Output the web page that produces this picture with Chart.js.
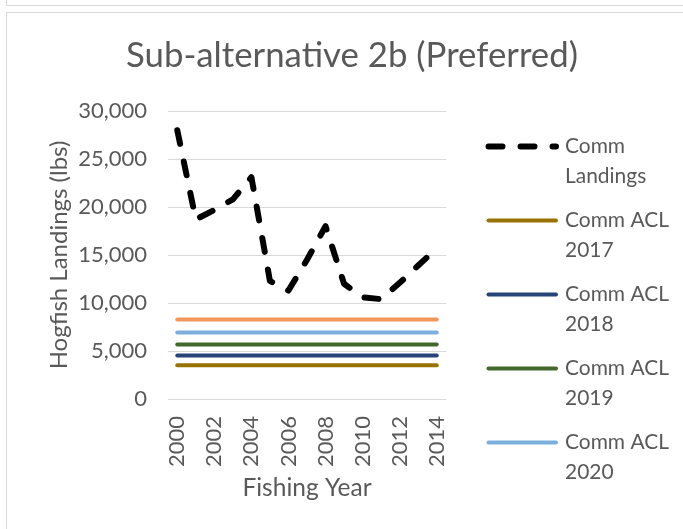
<!DOCTYPE html>
<html>
<head>
<meta charset="utf-8">
<script src="https://cdn.jsdelivr.net/npm/chart.js@4/dist/chart.umd.min.js"></script>
<style>
  html, body { margin: 0; padding: 0; background: #fff; width: 683px; height: 529px; overflow: hidden; }
  .topbox { position: absolute; left: 6px; top: -20px; width: 700px; height: 24px; border: 1px solid #d9d9d9; }
  .chartbox { position: absolute; left: 6px; top: 12px; width: 700px; height: 540px; border: 1px solid #d9d9d9; }
  canvas { position: absolute; left: 0; top: 0; }
</style>
</head>
<body>
<div class="topbox"></div>
<div class="chartbox"></div>
<canvas id="c" width="683" height="529"></canvas>
<script>
const years = ['2000','2001','2002','2003','2004','2005','2006','2007','2008','2009','2010','2011','2012','2013','2014'];
const commLandings = [28000, 18700, 19700, 20800, 23100, 12300, 11300, 14500, 18000, 12000, 10600, 10400, 12100, 13900, 15700];
const commAcl2017 = [3510, 3510, 3510, 3510, 3510, 3510, 3510, 3510, 3510, 3510, 3510, 3510, 3510, 3510, 3510];
const commAcl2018 = [4520, 4520, 4520, 4520, 4520, 4520, 4520, 4520, 4520, 4520, 4520, 4520, 4520, 4520, 4520];
const commAcl2019 = [5670, 5670, 5670, 5670, 5670, 5670, 5670, 5670, 5670, 5670, 5670, 5670, 5670, 5670, 5670];
const commAcl2020 = [6920, 6920, 6920, 6920, 6920, 6920, 6920, 6920, 6920, 6920, 6920, 6920, 6920, 6920, 6920];
const commAcl2021 = [8270, 8270, 8270, 8270, 8270, 8270, 8270, 8270, 8270, 8270, 8270, 8270, 8270, 8270, 8270];
const seriesNames = ['Comm Landings', 'Comm ACL 2017', 'Comm ACL 2018', 'Comm ACL 2019', 'Comm ACL 2020', 'Comm ACL 2021'];
const chartTitle = 'Sub-alternative 2b (Preferred)';
const legendCount = 5;

const FONT = 'Lato, "Liberation Sans", sans-serif';
const TXT = '#595959';

function hline(label, data, color) {
  return { label, data, borderColor: color, backgroundColor: color, borderWidth: 4,
    pointRadius: 0, pointHoverRadius: 0, tension: 0, borderCapStyle: 'round', fill: false };
}

function fitSize(ctx, text, base, target) {
  ctx.font = base + 'px ' + FONT;
  const w = ctx.measureText(text).width;
  return base * target / w;
}

const decorPlugin = {
  id: 'decor',
  afterDraw(chart) {
    const ctx = chart.ctx;
    const ds = chart.data.datasets;
    ctx.save();
    // title
    const ts = fitSize(ctx, chartTitle, 36, 452);
    ctx.fillStyle = TXT;
    ctx.font = ts + 'px ' + FONT;
    ctx.textAlign = 'center';
    ctx.textBaseline = 'middle';
    ctx.fillText(chartTitle, 352, 56);
    // legend
    const ls = fitSize(ctx, 'Comm ACL', 22, 104);
    for (let i = 0; i < legendCount; i++) {
      const d = ds[i];
      const y = 146.5 + i * 74;
      ctx.beginPath();
      ctx.strokeStyle = d.borderColor;
      ctx.lineWidth = d.borderWidth;
      ctx.lineCap = 'round';
      ctx.setLineDash(d.borderDash || []);
      ctx.moveTo(488.5, y);
      ctx.lineTo(556, y);
      ctx.stroke();
      ctx.setLineDash([]);
      const lbl = d.label;
      const k = lbl.lastIndexOf(' ');
      const lines = [lbl.slice(0, k), lbl.slice(k + 1)];
      ctx.fillStyle = TXT;
      ctx.font = ls + 'px ' + FONT;
      ctx.textAlign = 'left';
      ctx.textBaseline = 'middle';
      lines.forEach((t, j) => ctx.fillText(t, 565, y + j * 30));
    }
    ctx.restore();
  }
};

new Chart(document.getElementById('c'), {
  type: 'line',
  data: {
    labels: years,
    datasets: [
      { label: seriesNames[0], data: commLandings, borderColor: '#000000', backgroundColor: '#000000',
        borderWidth: 6, borderDash: [14, 18], borderCapStyle: 'round', borderJoinStyle: 'round',
        pointRadius: 0, pointHoverRadius: 0, tension: 0, fill: false },
      hline(seriesNames[1], commAcl2017, '#997300'),
      hline(seriesNames[2], commAcl2018, '#264478'),
      hline(seriesNames[3], commAcl2019, '#43682B'),
      hline(seriesNames[4], commAcl2020, '#7DAFDE'),
      hline(seriesNames[5], commAcl2021, '#F1975A')
    ]
  },
  options: {
    responsive: false,
    devicePixelRatio: 1,
    animation: false,
    layout: { padding: { left: 30, right: 237, top: 111, bottom: 0 } },
    plugins: {
      legend: { display: false },
      tooltip: { enabled: false },
      title: { display: false }
    },
    scales: {
      x: {
        type: 'category',
        offset: true,
        grid: { display: false, drawTicks: false },
        border: { display: false },
        ticks: {
          autoSkip: false, maxRotation: 90, minRotation: 90, padding: 17,
          color: TXT, font: { family: FONT, size: 22 },
          callback: function(v, i) { return i % 2 === 0 ? this.getLabelForValue(v) : ''; }
        },
        title: { display: true, text: 'Fishing Year', color: TXT, font: { family: FONT, size: 24.5 }, padding: { top: 0, bottom: 26 } },
        afterFit: s => { s.height = 130; }
      },
      y: {
        min: 0, max: 30000,
        grid: { color: '#d9d9d9', lineWidth: 1, drawTicks: false },
        border: { display: false },
        ticks: {
          stepSize: 5000, padding: 21, color: TXT, font: { family: FONT, size: 22 },
          callback: v => v.toLocaleString('en-US')
        },
        title: { display: true, text: 'Hogfish Landings (lbs)', color: TXT, font: { family: FONT, size: 24 }, padding: { top: 15, bottom: 0 } },
        afterFit: s => { s.width = 138; }
      }
    }
  },
  plugins: [decorPlugin]
});
</script>
</body>
</html>
